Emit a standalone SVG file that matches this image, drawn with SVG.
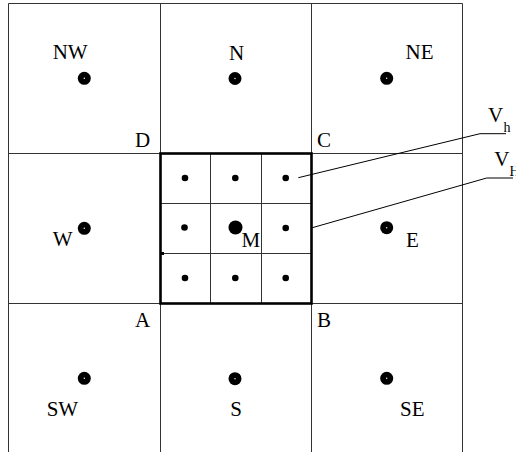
<svg xmlns="http://www.w3.org/2000/svg" width="516" height="452" viewBox="0 0 516 452">
  <style>
    .grid { stroke: #333; stroke-width: 1; fill: none; }
    .bold { stroke: #000; stroke-width: 2.6; fill: none; }
    .lead { stroke: #000; stroke-width: 1; fill: none; }
    .lbl { font-family: "Liberation Serif", "Times New Roman", serif; font-size: 21px; fill: #000; }
    .sub { font-family: "Liberation Serif", "Times New Roman", serif; font-size: 14px; fill: #000; }
    .pt { fill: #000; }
    .hole { fill: #fff; }
  </style>
  <defs>
    <g id="bigdot">
      <circle class="pt" r="6.5"/>
      <circle class="hole" r="0.7"/>
    </g>
  </defs>
  <rect width="516" height="452" fill="#fff"/>

  <!-- coarse 3x3 cell grid -->
  <g id="grid">
    <path class="grid" d="M8.5 3.5H462.5M8.5 153.5H462.5M8.5 303.5H462.5"/>
    <path class="grid" d="M8.5 3.5V452M160.5 3.5V452M311.5 3.5V452M462.5 3.5V452"/>
  </g>

  <!-- refined centre cell M -->
  <g id="cell-M">
    <path class="grid" d="M210.5 153.5V303.5M261.5 153.5V303.5M160.5 203.5H311.5M160.5 253.5H311.5"/>
    <rect class="bold" x="160.5" y="153.5" width="151" height="150"/>
    <rect x="160" y="252" width="4" height="3" fill="#000"/>
    <circle class="pt" cx="185" cy="178" r="3.3"/>
    <circle class="pt" cx="235.3" cy="178" r="3.3"/>
    <circle class="pt" cx="285.7" cy="178" r="3.3"/>
    <circle class="pt" cx="184.5" cy="227.5" r="3.3"/>
    <circle class="pt" cx="285.7" cy="228" r="3.3"/>
    <circle class="pt" cx="185" cy="278" r="3.3"/>
    <circle class="pt" cx="235.3" cy="278" r="3.3"/>
    <circle class="pt" cx="285.7" cy="278" r="3.3"/>
    <circle class="pt" cx="235.5" cy="227.5" r="7"/>
    <text class="lbl" x="241.5" y="246.7">M</text>
  </g>

  <!-- neighbour cells -->
  <g id="cell-NW"><use href="#bigdot" x="84.3" y="78.3"/><text class="lbl" x="52.7" y="59.3">NW</text></g>
  <g id="cell-N"><use href="#bigdot" x="235" y="78.5"/><text class="lbl" x="229" y="59.5">N</text></g>
  <g id="cell-NE"><use href="#bigdot" x="386.7" y="78.3"/><text class="lbl" x="405.5" y="59.3">NE</text></g>
  <g id="cell-W"><use href="#bigdot" x="84.3" y="228.3"/><text class="lbl" x="52.7" y="245.7">W</text></g>
  <g id="cell-E"><use href="#bigdot" x="386.7" y="227.7"/><text class="lbl" x="406" y="246.7">E</text></g>
  <g id="cell-SW"><use href="#bigdot" x="84.3" y="378.3"/><text class="lbl" x="46.7" y="416">SW</text></g>
  <g id="cell-S"><use href="#bigdot" x="235" y="378.7"/><text class="lbl" x="230.3" y="415.7">S</text></g>
  <g id="cell-SE"><use href="#bigdot" x="386.7" y="378.3"/><text class="lbl" x="400" y="416">SE</text></g>

  <!-- corner labels of cell M -->
  <g id="corners">
    <text class="lbl" x="135" y="147.3">D</text>
    <text class="lbl" x="317" y="147.3">C</text>
    <text class="lbl" x="135" y="327.3">A</text>
    <text class="lbl" x="317" y="327.3">B</text>
  </g>

  <!-- leader lines -->
  <g id="connectors">
    <polyline class="lead" points="298.3,177.7 480,133.7 506,133.7"/>
    <polyline class="lead" points="312.3,227.7 486.7,178 513,178"/>
  </g>

  <g id="label-Vh">
    <text class="lbl" x="488" y="121.7">V</text>
    <text class="sub" x="503.5" y="131.7">h</text>
  </g>
  <g id="label-VH">
    <text class="lbl" x="494.3" y="166">V</text>
    <text class="sub" x="509.5" y="176">H</text>
  </g>
</svg>
